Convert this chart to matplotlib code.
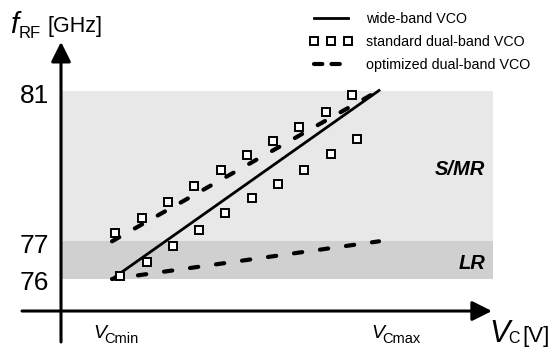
import matplotlib
matplotlib.use("Agg")
import matplotlib.pyplot as plt
from matplotlib.lines import Line2D

plt.rcParams["font.family"] = ["Liberation Sans", "DejaVu Sans"]

# control voltage, normalised: 0 = V_Cmin, 1 = V_Cmax
v_wide = [0.0, 1.0]
f_wide = [76.0, 81.0]

v_opt_lr = [0.0, 1.0]
f_opt_lr = [76.0, 77.0]
v_opt_smr = [0.0, 1.0]
f_opt_smr = [77.0, 81.0]

v_std_smr = [0.011, 0.111, 0.209, 0.308, 0.408, 0.506, 0.604, 0.701, 0.800, 0.900]
f_std_smr = [77.22, 77.62, 78.03, 78.46, 78.90, 79.30, 79.65, 80.03, 80.44, 80.87]
v_std_lr = [0.030, 0.130, 0.227, 0.326, 0.423, 0.523, 0.622, 0.719, 0.819, 0.916]
f_std_lr = [76.08, 76.46, 76.88, 77.31, 77.75, 78.15, 78.51, 78.88, 79.31, 79.72]

band_lr = (76.0, 77.0)
band_smr = (77.0, 81.0)
band_v = [-0.187, 1.427]
ytick_vals = [76, 77, 81]

fig = plt.figure(figsize=(5.53, 3.5), dpi=100)
ax = fig.add_axes([0, 0, 1, 1])
ax.set_xlim(-0.4195, 1.6517)
ax.set_ylim(74.117, 83.401)
ax.axis("off")

# frequency bands
ax.fill_between(band_v, *band_smr, color="#e8e8e8", lw=0, zorder=0)
ax.fill_between(band_v, *band_lr, color="#d0d0d0", lw=0, zorder=0)

# axes with arrows
arrow = dict(arrowstyle="-|>,head_length=12,head_width=6", mutation_scale=1,
             lw=2.2, color="black", shrinkA=0, shrinkB=0)
ax.annotate("", xy=(-0.191, 82.29), xytext=(-0.191, 74.33), arrowprops=arrow)
ax.annotate("", xy=(1.423, 75.151), xytext=(-0.337, 75.151), arrowprops=arrow)

# curves
dash_kw = dict(color="black", lw=3.0, dashes=(2.0, 4.3), dash_capstyle="round")
ax.plot(v_wide, f_wide, color="black", lw=2.0, zorder=3)
ax.plot(v_opt_lr, f_opt_lr, zorder=3, **dash_kw)
ax.plot(v_opt_smr, f_opt_smr, zorder=3, **dash_kw)
sq_kw = dict(ls="none", marker="s", ms=6, mfc="white", mec="black", mew=1.4, zorder=4)
ax.plot(v_std_smr, f_std_smr, **sq_kw)
ax.plot(v_std_lr, f_std_lr, **sq_kw)

# frequency tick labels
for f, yb in zip(ytick_vals, [75.708, 76.690, 80.668]):
    ax.text(-0.236, yb, str(f), ha="right", va="baseline", fontsize=19)

# band labels
ax.text(1.397, 78.759, "S/MR", ha="right", va="baseline", fontsize=14.5,
        fontweight="bold", style="italic")
ax.text(1.397, 76.265, "LR", ha="right", va="baseline", fontsize=14.5,
        fontweight="bold", style="italic")

# axis titles
ax.text(-0.382, 82.525, "f", ha="left", va="baseline", fontsize=21, style="italic")
ax.text(-0.348, 82.393, "RF", ha="left", va="baseline", fontsize=12)
ax.text(-0.240, 82.552, "[GHz]", ha="left", va="baseline", fontsize=15.5)

ax.text(-0.071, 74.435, "V", ha="left", va="baseline", fontsize=14, style="italic")
ax.text(-0.030, 74.302, "Cmin", ha="left", va="baseline", fontsize=10.5)
ax.text(0.970, 74.435, "V", ha="left", va="baseline", fontsize=14, style="italic")
ax.text(1.011, 74.302, "Cmax", ha="left", va="baseline", fontsize=10.5)

ax.text(1.412, 74.328, "V", ha="left", va="baseline", fontsize=22, style="italic")
ax.text(1.483, 74.302, "C", ha="left", va="baseline", fontsize=11.5)
ax.text(1.536, 74.328, "[V]", ha="left", va="baseline", fontsize=16)

# legend
handles = [
    Line2D([], [], color="black", lw=2.0),
    Line2D([], [], **sq_kw),
    Line2D([], [], color="black", lw=3.0, dashes=(2.0, 2.2), dash_capstyle="round"),
]
labels = ["wide-band VCO", "standard dual-band VCO", "optimized dual-band VCO"]
ax.legend(handles, labels, loc="upper left", bbox_to_anchor=(0.560, 0.967),
          bbox_transform=fig.transFigure, frameon=False, fontsize=10.3,
          handlelength=3.0, handletextpad=0.95, labelspacing=0.65,
          borderpad=0, borderaxespad=0, numpoints=3)

fig.savefig("out.png", dpi=100)
